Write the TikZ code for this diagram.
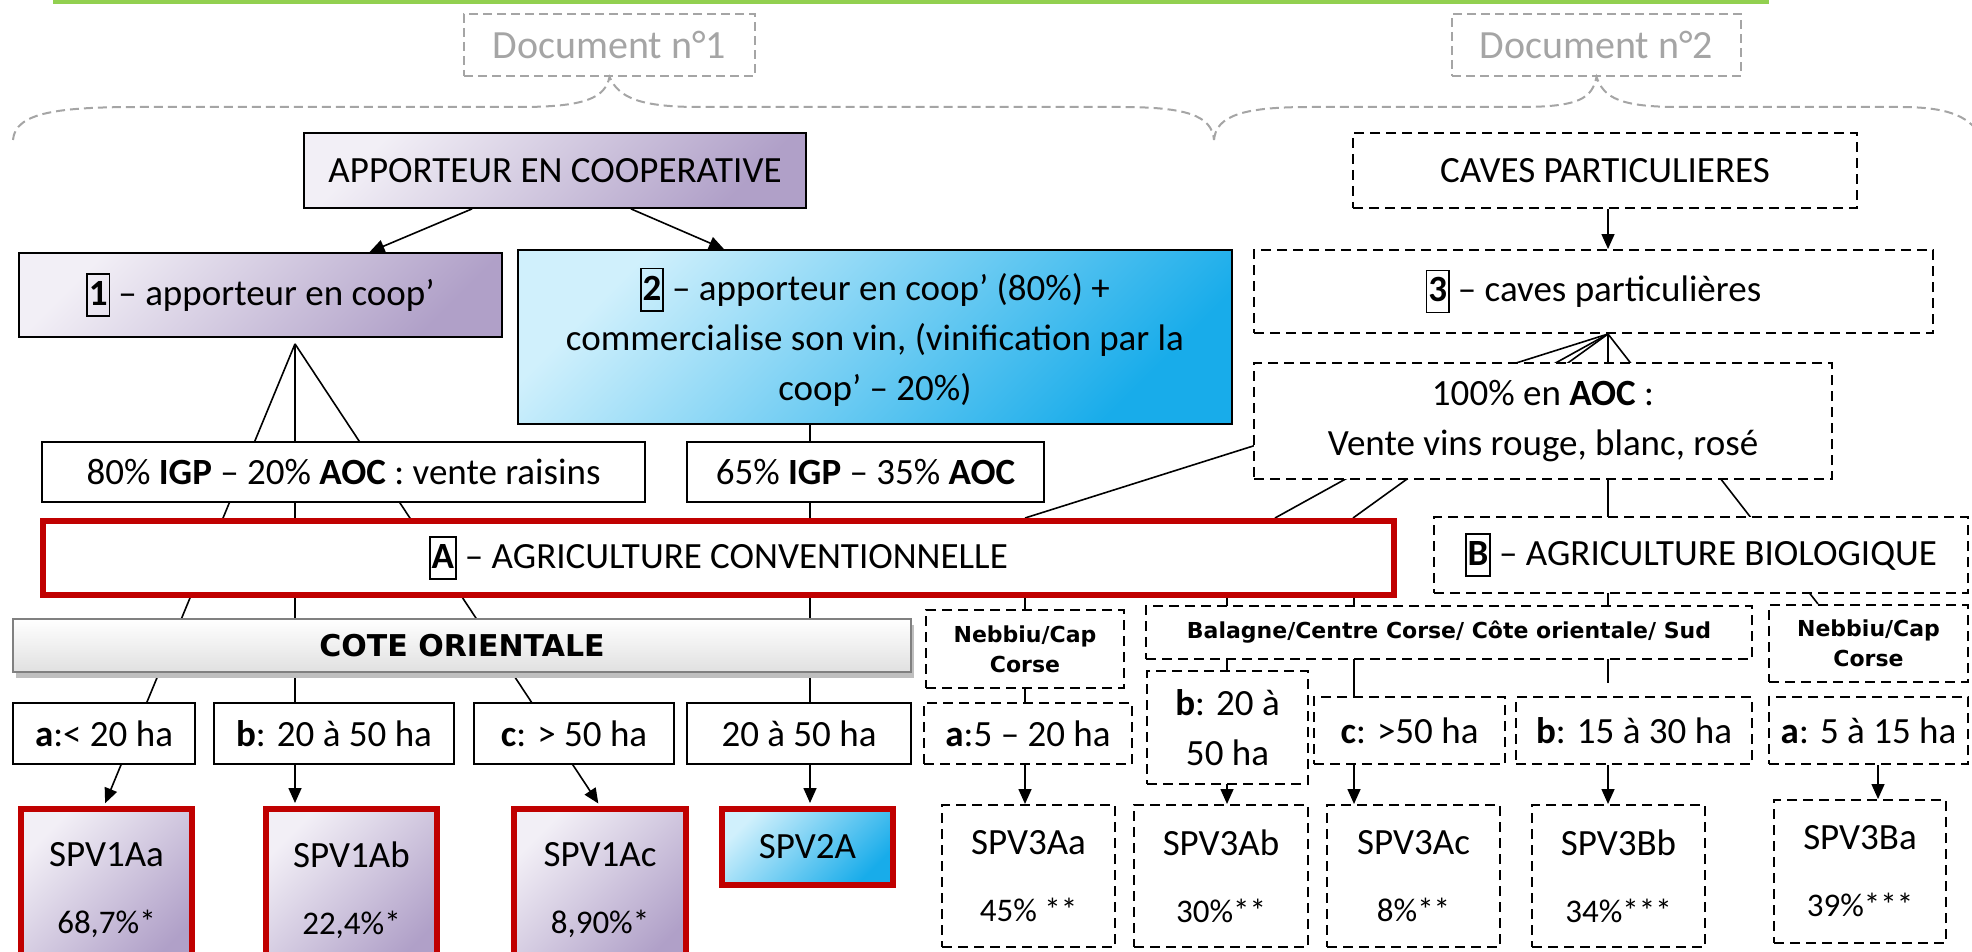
\documentclass[tikz,border=0pt]{standalone}
\usepackage{fontspec}
\setmainfont{Carlito}
\newfontfamily\verdana{DejaVu Sans}
\usetikzlibrary{arrows.meta, backgrounds, shadows, positioning}

\definecolor{vertbar}{RGB}{146,208,80}
\definecolor{rouge}{RGB}{192,0,0}
\definecolor{mauveclair}{RGB}{242,239,246}
\definecolor{mauve}{RGB}{176,160,200}
\definecolor{bleuclair}{RGB}{208,240,252}
\definecolor{bleu}{RGB}{24,172,234}
\definecolor{grisdoc}{RGB}{165,165,165}

\newcommand{\numbox}[1]{{\setlength{\fboxsep}{1pt}\setlength{\fboxrule}{1.5pt}\fbox{\textbf{#1}\rule[-0.25em]{0pt}{1.05em}}}}
\newcommand{\pct}{\fontsize{33}{38}\selectfont}

\tikzset{
  boxtext/.style={inner sep=0pt, align=center, font=\fontsize{37}{50}\selectfont},
  solidbox/.style={boxtext, draw, line width=1.8pt, fill=white},
  dashbox/.style={boxtext, draw, line width=2pt, dash pattern=on 10pt off 6pt, fill=white},
  region/.style={dashbox, font=\verdana\bfseries\fontsize{22}{30}\selectfont},
  doc/.style={boxtext, draw=grisdoc, line width=2pt, dash pattern=on 9pt off 5pt, text=grisdoc, font=\fontsize{40}{44}\selectfont},
  mauvebox/.style={boxtext, draw, line width=1.8pt, top color=mauveclair, bottom color=mauve, shading angle=45},
  bleubox/.style={boxtext, draw, line width=1.8pt, top color=bleuclair, bottom color=bleu, shading angle=45},
  redbox/.style={boxtext, draw=rouge, line width=6pt, fill=white},
  spvmauve/.style={redbox, top color=mauveclair, bottom color=mauve, shading angle=45},
  spvbleu/.style={redbox, top color=bleuclair, bottom color=bleu, shading angle=45},
  cotebox/.style={boxtext, draw=gray, line width=2pt, top color=white, bottom color=black!12,
    drop shadow={shadow xshift=3pt, shadow yshift=-6pt, fill=black!25, opacity=1},
    font=\verdana\bfseries\fontsize{30}{36}\selectfont},
  link/.style={line width=1.6pt},
  braceline/.style={draw=grisdoc, line width=2pt, dash pattern=on 9pt off 5pt}
}

\begin{document}
\begin{tikzpicture}[x=1pt, y=-1pt, >={Triangle[length=15pt,width=13pt]}]
    \useasboundingbox (0,0) rectangle (1972,952);
    \fill[vertbar] (53,0) rectangle (1769,4);

    % documents et accolades
    \node[doc, minimum width=291pt, minimum height=62pt] (doc1) at (609.5,45) {Document n°1};
    \node[doc, minimum width=289pt, minimum height=62pt] (doc2) at (1596.5,45) {Document n°2};
    \draw[braceline] (13,140) .. controls (15,112) and (60,107) .. (140,107) -- (520,107)
        .. controls (585,107) and (605,98) .. (doc1.south) .. controls (619,98) and (640,107) .. (700,107)
        -- (1120,107) .. controls (1185,107) and (1212,115) .. (1214,140);
    \draw[braceline] (1214,140) .. controls (1216,115) and (1245,107) .. (1310,107) -- (1520,107)
        .. controls (1580,107) and (1592,98) .. (doc2.south) .. controls (1604,98) and (1620,107) .. (1680,107)
        -- (1900,107) .. controls (1945,107) and (1968,115) .. (1980,135);

    % niveau 1
    \node[mauvebox, minimum width=502pt, minimum height=75pt] (appo) at (555,170.5) {APPORTEUR EN COOPERATIVE};
    \node[dashbox, minimum width=504pt, minimum height=75pt] (caves) at (1605,170.5) {CAVES PARTICULIERES};

    \node[mauvebox, minimum width=483pt, minimum height=84pt] (one) at (260.5,295) {\numbox{1} – apporteur en coop’};
    \node[bleubox, minimum width=714pt, minimum height=174pt] (two) at (875,337)
        {\numbox{2} – apporteur en coop’ (80\%) +\\commercialise son vin, (vinification par la\\coop’ – 20\%)};
    \node[dashbox, minimum width=679pt, minimum height=83pt] (three) at (1593.5,291.5) {\numbox{3} – caves particulières};

    \node[solidbox, minimum width=603pt, minimum height=60pt] (igp80) at (343.5,472) {80\% \textbf{IGP} – 20\% \textbf{AOC} : vente raisins};
    \node[solidbox, minimum width=357pt, minimum height=60pt] (igp65) at (865.5,472) {65\% \textbf{IGP} – 35\% \textbf{AOC}};
    \node[dashbox, minimum width=578pt, minimum height=116pt] (aoc100) at (1543,421) {100\% en \textbf{AOC} :\\Vente vins rouge, blanc, rosé};

    % agriculture
    \node[redbox, minimum width=1351pt, minimum height=74pt] (conv) at (718.5,558) {\numbox{A} – AGRICULTURE CONVENTIONNELLE};
    \node[dashbox, minimum width=534pt, minimum height=76pt] (bio) at (1701,555) {\numbox{B} – AGRICULTURE BIOLOGIQUE};

    % regions
    \node[cotebox, minimum width=898pt, minimum height=53pt] (cote) at (462,645.5) {COTE ORIENTALE};
    \node[region, minimum width=198pt, minimum height=78pt] (neb1) at (1025,649) {Nebbiu/Cap\\Corse};
    \node[region, minimum width=606pt, minimum height=53pt] (bal) at (1449,632.5) {Balagne/Centre Corse/ Côte orientale/ Sud};
    \node[region, minimum width=199pt, minimum height=77pt] (neb2) at (1868.5,643.5) {Nebbiu/Cap\\Corse};

    % surfaces
    \node[solidbox, minimum width=182pt, minimum height=61pt] (surfa) at (104,733.5) {\textbf{a}:< 20 ha};
    \node[solidbox, minimum width=240pt, minimum height=61pt] (surfb) at (334,733.5) {\textbf{b}: 20 à 50 ha};
    \node[solidbox, minimum width=200pt, minimum height=61pt] (surfc) at (574,733.5) {\textbf{c}: > 50 ha};
    \node[solidbox, minimum width=224pt, minimum height=61pt] (surfd) at (799,733.5) {20 à 50 ha};
    \node[dashbox, minimum width=208pt, minimum height=61pt] (caa) at (1028,733.5) {\textbf{a}:5 – 20 ha};
    \node[dashbox, minimum width=161pt, minimum height=113pt] (cab) at (1227.5,727.5) {\textbf{b}: 20 à\\50 ha};
    \node[dashbox, minimum width=191pt, minimum height=67pt] (cac) at (1409.5,730.5) {\textbf{c}: >50 ha};
    \node[dashbox, minimum width=236pt, minimum height=67pt] (cbb) at (1634,730.5) {\textbf{b}: 15 à 30 ha};
    \node[dashbox, minimum width=199pt, minimum height=67pt] (cba) at (1868.5,730.5) {\textbf{a}: 5 à 15 ha};

    % systemes
    \node[spvmauve, minimum width=171pt, minimum height=162pt] (spv1a) at (106.5,890) {SPV1Aa\\[17pt]{\pct 68,7\%*}};
    \node[spvmauve, minimum width=171pt, minimum height=162pt] (spv1b) at (351.5,890) {SPV1Ab\\[17pt]{\pct 22,4\%*}};
    \node[spvmauve, minimum width=172pt, minimum height=162pt] (spv1c) at (600,890) {SPV1Ac\\[17pt]{\pct 8,90\%*}};
    \node[spvbleu, minimum width=171pt, minimum height=76pt] (spv2) at (807.5,847) {SPV2A};
    \node[dashbox, minimum width=173pt, minimum height=142pt] (spv3aa) at (1028.5,876) {SPV3Aa\\[17pt]{\pct 45\% **}};
    \node[dashbox, minimum width=174pt, minimum height=142pt] (spv3ab) at (1221,876) {SPV3Ab\\[17pt]{\pct 30\%**}};
    \node[dashbox, minimum width=173pt, minimum height=142pt] (spv3ac) at (1413.5,876) {SPV3Ac\\[17pt]{\pct 8\%**}};
    \node[dashbox, minimum width=173pt, minimum height=142pt] (spv3bb) at (1618.5,876) {SPV3Bb\\[17pt]{\pct 34\%***}};
    \node[dashbox, minimum width=172pt, minimum height=143pt] (spv3ba) at (1860,871.5) {SPV3Ba\\[17pt]{\pct 39\%***}};

\begin{scope}[on background layer]
    \draw[link,->] ([xshift=-83pt]appo.south) -- ([xshift=109pt]one.north);
    \draw[link,->] ([xshift=76pt]appo.south) -- ([xshift=-151pt]two.north);
    \draw[link,->] ([xshift=3pt]caves.south) -- ([xshift=14.5pt]three.north);

    % cooperative
    \coordinate (fan1) at ([xshift=34.5pt,yshift=-6pt]one.south);
    \draw[link,->,shorten >=3pt] (fan1) -- ([xshift=-2.5pt]spv1a.north);
    \draw[link,->,shorten >=3pt] (fan1) -- (fan1 |- spv1b.north);
    \draw[link,->,shorten >=3pt] (fan1) -- (spv1c.north);
    \draw[link,->,shorten >=3pt] ([xshift=-65pt]two.south) -- ([xshift=-65pt]two.south |- spv2.north);

    % caves particulieres
    \coordinate (fan3) at ([xshift=14.5pt]three.south);
    \coordinate (stub) at ([yshift=-23pt]bal.south -| fan3);
    \draw[link] (fan3) -- ([xshift=306.5pt]conv.north);
    \draw[link] (fan3) -- ([xshift=556.5pt]conv.north);
    \draw[link] (fan3) -- ([xshift=634.5pt]conv.north);
    \draw[link] (fan3) -- (stub);
    \draw[link] (fan3) -- ([xshift=-50.5pt]neb2.north);

    \draw[link,->] ([xshift=306.5pt]conv.south) -- ([xshift=306.5pt]conv.south |- spv3aa.north);
    \draw[link,->] ([xshift=508.5pt]conv.south) -- ([xshift=508.5pt]conv.south |- spv3ab.north);
    \draw[link,->] ([xshift=635.5pt]conv.south) -- ([xshift=635.5pt]conv.south |- spv3ac.north);
    \draw[link,->] ([xshift=-26pt]cbb.south) -- ([xshift=-26pt]cbb.south |- spv3bb.north);
    \draw[link,->] ([xshift=9.5pt]cba.south) -- ([xshift=9.5pt]cba.south |- spv3ba.north);
\end{scope}
\end{tikzpicture}
\end{document}
